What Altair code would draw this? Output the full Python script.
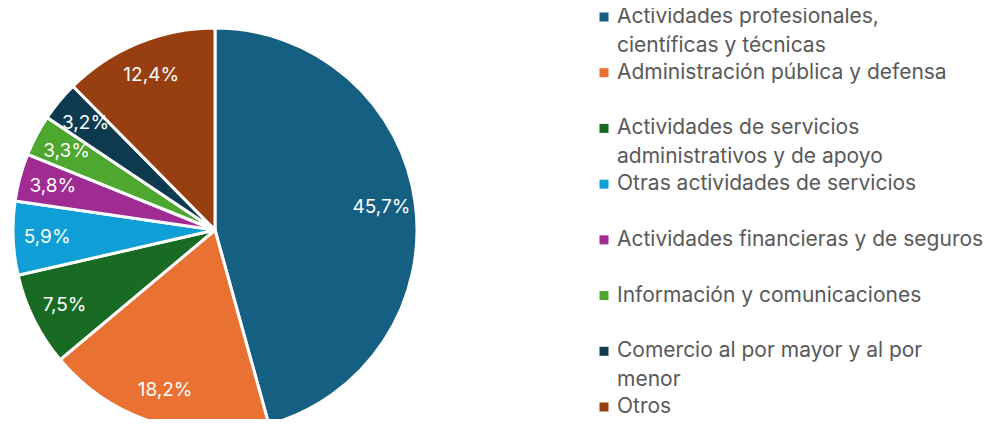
import altair as alt
import pandas as pd

categories = [
    "Actividades profesionales, científicas y técnicas",
    "Administración pública y defensa",
    "Actividades de servicios administrativos y de apoyo",
    "Otras actividades de servicios",
    "Actividades financieras y de seguros",
    "Información y comunicaciones",
    "Comercio al por mayor y al por menor",
    "Otros",
]
legend_labels = [
    "Actividades profesionales,\ncientíficas y técnicas",
    "Administración pública y defensa",
    "Actividades de servicios\nadministrativos y de apoyo",
    "Otras actividades de servicios",
    "Actividades financieras y de seguros",
    "Información y comunicaciones",
    "Comercio al por mayor y al por\nmenor",
    "Otros",
]
values = [45.7, 18.2, 7.5, 5.9, 3.8, 3.3, 3.2, 12.4]
value_labels = ["45,7%", "18,2%", "7,5%", "5,9%", "3,8%", "3,3%", "3,2%", "12,4%"]
colors = ["#156082", "#E97132", "#196B24", "#0F9ED5", "#A02B93", "#4EA72E", "#0E3A4F", "#973F10"]

df = pd.DataFrame({
    "cat": categories,
    "legend": legend_labels,
    "value": values,
    "label": value_labels,
    "idx": list(range(len(categories))),
})

FONT = "Inter"
color_scale = alt.Scale(domain=categories, range=colors)

base = alt.Chart(df).encode(
    theta=alt.Theta("value:Q", stack=True),
    order=alt.Order("idx:Q", sort="ascending"),
)

pie = base.mark_arc(stroke="white", strokeWidth=3, radius=202).encode(
    x=alt.value(207),
    y=alt.value(222),
    color=alt.Color("cat:N", scale=color_scale, legend=None),
)

labels = base.mark_text(radius=168, fontSize=19, font=FONT, color="white").encode(
    x=alt.value(207),
    y=alt.value(222),
    text="label:N",
)

leg_y = alt.Y("idx:Q", scale=alt.Scale(domain=[0, 7], range=[9, 399]), axis=None)

leg_sq = alt.Chart(df).mark_square(size=81, opacity=1).encode(
    x=alt.value(596),
    y=leg_y,
    color=alt.Color("cat:N", scale=color_scale, legend=None),
)

leg_txt = alt.Chart(df).mark_text(
    align="left", baseline="top", dy=-11, fontSize=21, font=FONT,
    color="#595959", lineBreak="\n", lineHeight=29,
).encode(
    x=alt.value(609),
    y=leg_y,
    text="legend:N",
)

chart = alt.layer(pie, labels, leg_sq, leg_txt).properties(
    width=981, height=411,
    padding=0,
    autosize=alt.AutoSizeParams(type="none"),
).configure_view(stroke=None)

chart.save("out.html", embed_options={"renderer": "svg", "actions": False})
